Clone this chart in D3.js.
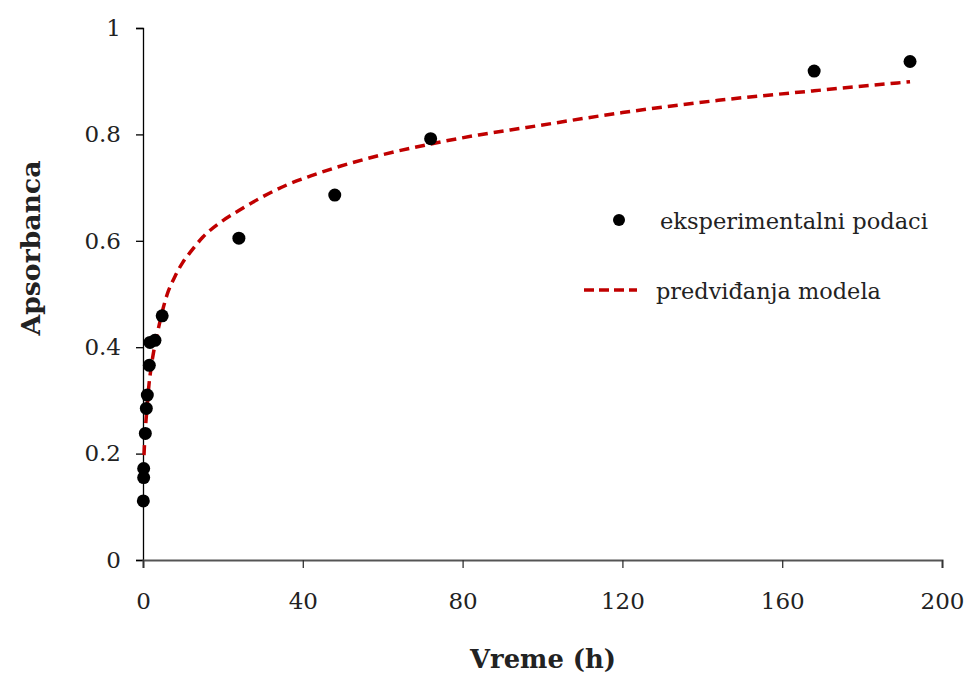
<!DOCTYPE html>
<html>
<head>
<meta charset="utf-8">
<script src="https://cdn.jsdelivr.net/npm/d3@7"></script>
<style>
  body { margin: 0; background: #fff; }
  svg { display: block; }
  text { font-family: "DejaVu Serif", "Liberation Serif", serif; fill: #222; }
</style>
</head>
<body>
<svg id="chart" width="964" height="673"></svg>
<script>
// eksperimentalni podaci
const expTime = [0.08, 0.17, 0.17, 0.58, 0.83, 1.08, 1.58, 1.75, 3, 4.8, 24, 48, 72, 168, 192];
const expAbs  = [0.111, 0.155, 0.172, 0.238, 0.285, 0.31, 0.366, 0.409, 0.413, 0.459, 0.605, 0.686, 0.792, 0.919, 0.937];

// predviđanja modela
const modelTime = [0.25, 0.5, 1, 1.5, 2, 3, 4, 5, 6, 8, 10, 12, 15, 20, 24, 30, 36, 42, 48, 60, 72, 84, 96, 120, 144, 168, 192];
const modelAbs  = [0.197, 0.235, 0.285, 0.33, 0.36, 0.405, 0.44, 0.472, 0.498, 0.533, 0.56, 0.58, 0.607, 0.638, 0.657, 0.683, 0.705, 0.722, 0.737, 0.762, 0.782, 0.799, 0.813, 0.841, 0.864, 0.882, 0.899];

const xTicks = [0, 40, 80, 120, 160, 200];
const yTicks = [0, 0.2, 0.4, 0.6, 0.8, 1];
const legendLabels = ["eksperimentalni podaci", "predviđanja modela"];

const red = "#c00000";
const svg = d3.select("#chart");

const x = d3.scaleLinear().domain([0, 200]).range([143, 942]);
const y = d3.scaleLinear().domain([0, 1]).range([560, 28]);

// shrink/grow a text's font so it spans the width seen in the reference
function fitWidth(sel, target) {
    const n = sel.node();
    const fs = parseFloat(sel.attr("font-size"));
    const w = n.getComputedTextLength();
    if (w > 0) sel.attr("font-size", (fs * target / w).toFixed(2));
}

// y axis
const yAxis = svg.append("g")
    .attr("transform", "translate(143,0)")
    .call(d3.axisLeft(y).tickValues(yTicks).tickFormat(d3.format("")).tickSize(7).tickPadding(15));
yAxis.select(".domain").attr("stroke", "#000").attr("stroke-width", 1.3);
yAxis.selectAll(".tick line").attr("stroke", "#000").attr("stroke-width", 1.3);
yAxis.selectAll("text").attr("font-size", 23).attr("fill", "#222")
    .attr("font-family", "DejaVu Serif, Liberation Serif, serif");

// x axis
const xAxis = svg.append("g")
    .attr("transform", "translate(0,560)")
    .call(d3.axisBottom(x).tickValues(xTicks).tickSize(8).tickPadding(25));
xAxis.select(".domain").attr("stroke", "#555").attr("stroke-width", 2);
xAxis.selectAll(".tick line").attr("stroke", "#333").attr("stroke-width", 1.3);
xAxis.selectAll("text").attr("font-size", 23).attr("fill", "#222")
    .attr("font-family", "DejaVu Serif, Liberation Serif, serif");

// model curve
const line = d3.line()
    .x((d, i) => x(modelTime[i]))
    .y(d => y(d))
    .curve(d3.curveMonotoneX);

svg.append("path")
    .datum(modelAbs)
    .attr("d", line)
    .attr("fill", "none")
    .attr("stroke", red)
    .attr("stroke-width", 3.5)
    .attr("stroke-dasharray", "10,6");

// experimental points
svg.append("g").selectAll("circle")
    .data(expAbs)
    .join("circle")
    .attr("cx", (d, i) => x(expTime[i]))
    .attr("cy", d => y(d))
    .attr("r", 6.5)
    .attr("fill", "#000");

// legend
const lg = svg.append("g");
lg.append("circle").attr("cx", 619).attr("cy", 220).attr("r", 6).attr("fill", "#000");
const l1 = lg.append("text").attr("x", 660).attr("y", 229).attr("font-size", 22).text(legendLabels[0]);
fitWidth(l1, 268);
lg.append("line")
    .attr("x1", 584).attr("x2", 637).attr("y1", 290).attr("y2", 290)
    .attr("stroke", red).attr("stroke-width", 3.5).attr("stroke-dasharray", "10,5");
const l2 = lg.append("text").attr("x", 656).attr("y", 299).attr("font-size", 22).text(legendLabels[1]);
fitWidth(l2, 225);

// axis titles
const xt = svg.append("text")
    .attr("x", 543).attr("y", 668)
    .attr("text-anchor", "middle")
    .attr("font-size", 26).attr("font-weight", "bold")
    .text("Vreme (h)");
fitWidth(xt, 146);

const yt = svg.append("text")
    .attr("transform", "translate(40,248) rotate(-90)")
    .attr("text-anchor", "middle")
    .attr("font-size", 26).attr("font-weight", "bold")
    .text("Apsorbanca");
fitWidth(yt, 175);
</script>
</body>
</html>
